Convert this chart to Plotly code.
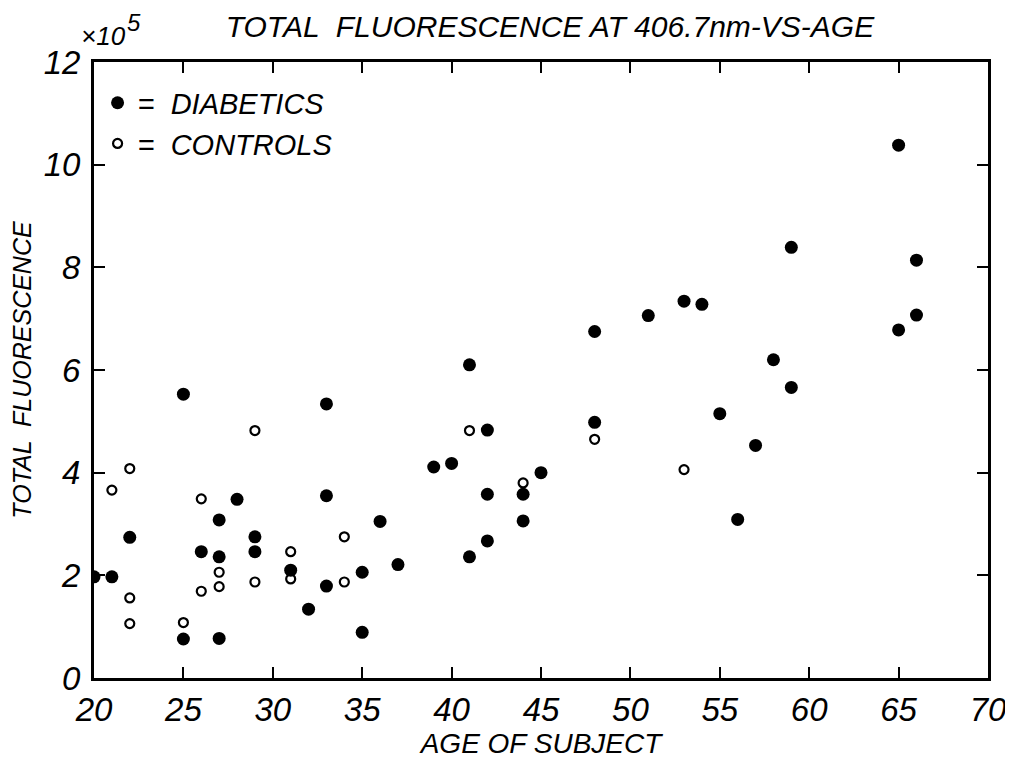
import plotly.graph_objects as go

# Data (age in years, fluorescence in units of 1e5)
diab_age = [20, 21, 22, 25, 25, 26, 27, 27, 27, 28, 29, 29, 31, 32, 33, 33, 33, 35, 35, 36,
            37, 39, 40, 41, 41, 42, 42, 42, 44, 44, 45, 48, 48, 51, 53, 54, 55, 56, 57, 58,
            59, 59, 65, 65, 66, 66]
diab_val = [1.97, 1.97, 2.74, 5.53, 0.76, 2.46, 3.08, 2.36, 0.77, 3.48, 2.75, 2.46, 2.10, 1.34,
            5.34, 3.55, 1.79, 2.06, 0.89, 3.05, 2.21, 4.11, 4.18, 6.10, 2.36, 4.83, 3.58, 2.67,
            3.58, 3.06, 4.00, 6.75, 4.98, 7.06, 7.34, 7.28, 5.15, 3.09, 4.53, 6.20, 8.39, 5.66,
            10.38, 6.78, 8.14, 7.07]

ctrl_age = [21, 22, 22, 22, 25, 26, 26, 27, 27, 29, 29, 31, 31, 34, 34, 41, 44, 48, 53]
ctrl_val = [3.66, 4.08, 1.56, 1.06, 1.08, 3.49, 1.69, 2.06, 1.78, 4.82, 1.87, 2.46, 1.93,
            2.75, 1.87, 4.82, 3.80, 4.65, 4.06]

x_ticks = [20, 25, 30, 35, 40, 45, 50, 55, 60, 65, 70]
y_ticks = [0, 2, 4, 6, 8, 10, 12]

FONT = "Liberation Sans"

fig = go.Figure()
fig.add_trace(go.Scatter(
    x=diab_age, y=diab_val, mode="markers", name="=  DIABETICS", legendgroup="d",
    marker=dict(symbol="circle", size=13, color="black", line=dict(width=0)),
))
fig.add_trace(go.Scatter(
    x=ctrl_age, y=ctrl_val, mode="markers", name="=  CONTROLS", legendgroup="c",
    marker=dict(symbol="circle-open", size=9, color="black", line=dict(width=2.2, color="black")),
))

axis_common = dict(
    showgrid=False, zeroline=False, showline=True, linecolor="black", linewidth=3,
    mirror="ticks", ticks="inside", ticklen=11, tickwidth=2, tickcolor="black",
    tickfont=dict(family=FONT, size=33, color="black", style="italic"),
)

fig.update_xaxes(
    range=[20, 70], tickvals=x_ticks, ticktext=[str(v) for v in x_ticks],
    title=dict(text="AGE OF SUBJECT", font=dict(family=FONT, size=28, color="black", style="italic"),
               standoff=7),
    ticklabelstandoff=0,
    **axis_common,
)
fig.update_yaxes(
    range=[0, 12], tickvals=y_ticks, ticktext=[str(v) for v in y_ticks],
    title=dict(text="TOTAL  FLUORESCENCE", font=dict(family=FONT, size=25, color="black", style="italic"),
               standoff=6),
    ticklabelstandoff=4,
    **axis_common,
)

fig.update_layout(
    width=1013, height=765,
    margin=dict(l=83, r=33, t=54, b=95),
    paper_bgcolor="white", plot_bgcolor="white",
    title=dict(text="TOTAL  FLUORESCENCE AT 406.7nm-VS-AGE", x=0.535, xanchor="center",
               y=0.976, yanchor="middle",
               font=dict(family=FONT, size=30, color="black", style="italic")),
    showlegend=True,
    legend=dict(x=0.004, y=0.975, xanchor="left", yanchor="top", bgcolor="rgba(0,0,0,0)",
                font=dict(family=FONT, size=29, color="black", style="italic"),
                itemsizing="trace", tracegroupgap=0),
    annotations=[
        dict(text="×10", x=0.0, y=1.0, xref="paper", yref="paper",
             xanchor="center", yanchor="middle", xshift=9, yshift=26, showarrow=False,
             font=dict(family=FONT, size=26, color="black", style="italic")),
        dict(text="5", x=0.0, y=1.0, xref="paper", yref="paper",
             xanchor="center", yanchor="middle", xshift=40, yshift=40, showarrow=False,
             font=dict(family=FONT, size=24, color="black", style="italic")),
    ],
)

fig.write_html("out.html")
